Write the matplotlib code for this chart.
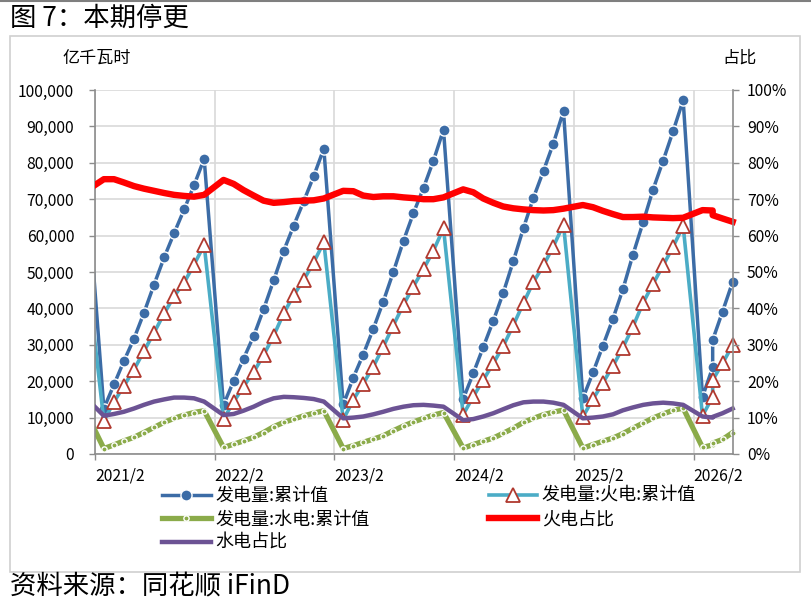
import numpy as np
import pandas as pd
import matplotlib
matplotlib.use("Agg")
import matplotlib.pyplot as plt
from matplotlib.lines import Line2D
from matplotlib.patches import Rectangle
from matplotlib.ticker import FuncFormatter
from datetime import datetime

plt.rcParams['font.family'] = ['Noto Sans CJK SC', 'DejaVu Sans']

# month labels of the data (month-end dates), Jan is not published
months = (["2020-12"]
          + [f"{y}-{m:02d}" for y in range(2021, 2026) for m in range(2, 13)]
          + ["2026-02", "2026-03", "2026-03", "2026-04", "2026-05"])

# 发电量:累计值 (亿千瓦时)
total_gen = [83000,
             12500, 19100, 25500, 31700, 38700, 46500, 54000, 60600, 67200, 73800, 81100,
             13400, 20100, 26200, 32400, 39700, 47700, 55900, 62700, 69500, 76300, 83900,
             13600, 21000, 27300, 34400, 41800, 50000, 58600, 66100, 73100, 80500, 89100,
             15100, 22200, 29300, 36600, 44200, 53000, 62100, 70300, 77800, 85300, 94200,
             15300, 22400, 29700, 37200, 45200, 54800, 63700, 72600, 80600, 88600, 97200,
             15700, 23800, 31300, 39100, 47300]

# 发电量:火电:累计值
thermal_gen = [56000,
               9100, 14300, 18700, 23200, 28200, 33300, 38600, 43300, 47100, 52000, 57400,
               9600, 14300, 18500, 22500, 27100, 32500, 38700, 43600, 47900, 52600, 58200,
               9400, 14900, 19300, 24000, 29400, 35300, 41000, 46000, 50800, 55800, 62000,
               10800, 15800, 20300, 24900, 29600, 35400, 41500, 47200, 51800, 57000, 63000,
               10200, 15100, 19500, 24200, 29200, 35000, 41600, 46700, 51800, 56900, 62600,
               10500, 15700, 20300, 24900, 29900]

# 发电量:水电:累计值
hydro_gen = [12300,
             1500, 2500, 3600, 4600, 5900, 7300, 8700, 9800, 10700, 11400, 11900,
             1800, 2700, 3600, 4600, 5900, 7500, 8700, 9600, 10500, 11200, 11900,
             1500, 2300, 3200, 4100, 5000, 6400, 7700, 8800, 9800, 10700, 11400,
             1600, 2600, 3500, 4400, 5700, 7100, 8700, 9800, 10800, 11500, 12100,
             1600, 2600, 3500, 4400, 5600, 7100, 8500, 9900, 11000, 12000, 12600,
             1800, 2500, 3000, 4000, 5900]

# 火电占比 (%)
thermal_share = [72.0,
                 75.5, 75.5, 74.6, 73.6, 72.9, 72.3, 71.7, 71.2, 70.9, 70.7, 71.2,
                 75.3, 74.2, 72.5, 71.0, 69.6, 69.0, 69.2, 69.5, 69.6, 69.7, 70.2,
                 72.3, 72.2, 71.0, 70.6, 70.8, 70.8, 70.5, 70.3, 70.0, 70.0, 70.5,
                 72.7, 71.9, 70.2, 69.0, 68.0, 67.5, 67.2, 67.0, 66.9, 67.0, 67.4,
                 68.4, 67.8, 66.8, 65.9, 65.1, 65.1, 65.2, 65.0, 64.9, 64.8, 64.9,
                 67.0, 66.9, 65.6, 64.7, 63.8]

# 水电占比 (%)
hydro_share = [15.8,
               10.5, 11.0, 11.6, 12.5, 13.5, 14.4, 15.0, 15.5, 15.5, 15.3, 14.4,
               10.7, 11.0, 11.9, 13.0, 14.3, 15.3, 15.7, 15.6, 15.4, 15.1, 14.4,
               9.8, 10.0, 10.3, 10.9, 11.6, 12.4, 13.0, 13.4, 13.5, 13.3, 13.0,
               9.3, 9.6, 10.3, 11.2, 12.3, 13.4, 14.2, 14.4, 14.4, 14.1, 13.5,
               9.8, 10.0, 10.3, 10.9, 12.0, 12.8, 13.5, 13.9, 14.1, 13.9, 13.5,
               10.3, 10.0, 10.2, 11.2, 12.5]

tick_years = [2021, 2022, 2023, 2024, 2025, 2026]
tick_labels = [f"{y}/2" for y in tick_years]

dates = (pd.to_datetime(months) + pd.offsets.MonthEnd(0)).to_pydatetime()

c_total = '#3c6ca6'
c_thermal = '#4bacc6'
c_tri = '#b0392f'
c_hydro = '#8bab4a'
c_red = '#ff0000'
c_purple = '#6c5394'
c_axis = '#8c8c8c'
c_grid = '#d9d9d9'

fig = plt.figure(figsize=(8.11, 6.07), dpi=100)
ax = fig.add_axes([95/811, 1-454/607, 638/811, 364/607])
ax2 = ax.twinx()

def clip(line, a):
    r = Rectangle((0, -0.05), 1.02, 1.1, transform=a.transAxes)
    line.set_clip_path(r)

blue_kw = dict(color=c_total, lw=2.5, marker='o', ms=8, mfc=c_total, mec='white', mew=1.0)
cyan_kw = dict(color=c_thermal, lw=2.6, marker='^', ms=9.5, mfc='white', mec=c_tri, mew=1.3)
green_kw = dict(color=c_hydro, lw=3.8, marker='o', ms=3.8, mfc=c_hydro, mec='white', mew=1.0)
red_kw = dict(color=c_red, lw=4.6)
purple_kw = dict(color=c_purple, lw=3.2)

l1, = ax.plot(dates, total_gen, **blue_kw)
l2, = ax.plot(dates, thermal_gen, **cyan_kw)
l3, = ax.plot(dates, hydro_gen, **green_kw)
l4, = ax2.plot(dates, thermal_share, solid_joinstyle='round', **red_kw)
l5, = ax2.plot(dates, hydro_share, solid_joinstyle='round', **purple_kw)
for ln in (l1, l2, l3):
    clip(ln, ax)
for ln in (l4, l5):
    clip(ln, ax2)

ax.set_xlim(datetime(2021, 2, 1), datetime(2026, 6, 1))
ax.set_ylim(0, 100000)
ax2.set_ylim(0, 100)
ax.set_yticks(np.arange(0, 100001, 10000))
ax2.set_yticks(np.arange(0, 101, 10))
ax.yaxis.set_major_formatter(FuncFormatter(lambda v, p: f"{v:,.0f}"))
ax2.yaxis.set_major_formatter(FuncFormatter(lambda v, p: f"{v:.0f}%"))

ax.set_xticks([datetime(y, 2, 1) for y in tick_years])
ax.set_xticklabels(tick_labels)
for lab in ax.get_xticklabels():
    lab.set_ha('left')

ax.grid(True, color=c_grid, lw=1.2)
ax.set_axisbelow(True)

for a in (ax, ax2):
    for s in a.spines.values():
        s.set_color(c_axis)
        s.set_linewidth(1.2)
    a.spines['top'].set_visible(False)
ax.spines['right'].set_visible(False)
ax2.spines['left'].set_visible(False)
ax2.spines['bottom'].set_visible(False)

ax.tick_params(axis='y', direction='out', length=4, width=1, color=c_axis,
               labelsize=11.3, pad=11)
ax.tick_params(axis='x', direction='out', length=4, width=1, color=c_axis,
               labelsize=11.3, pad=6)
ax2.tick_params(axis='y', direction='out', length=4, width=1, color=c_axis,
                labelsize=11.3, pad=6)

fig.text(62/811, 1-58/607, "亿千瓦时", fontsize=12.3, va='center', ha='left')
fig.text(722/811, 1-58/607, "占比", fontsize=12.3, va='center', ha='left')

handles = [Line2D([], [], **blue_kw), Line2D([], [], **green_kw), Line2D([], [], **purple_kw),
           Line2D([], [], **cyan_kw), Line2D([], [], **red_kw)]
labels = ["发电量:累计值", "发电量:水电:累计值", "水电占比", "发电量:火电:累计值", "火电占比"]
fig.legend(handles, labels, loc='upper left', bbox_to_anchor=(162/811, 1-487/607),
           ncol=2, frameon=False, fontsize=13, handlelength=2.7, handletextpad=0.25,
           columnspacing=6.6, labelspacing=0.3, borderpad=0, borderaxespad=0)

fig.text(10/811, 1-18/607, "图 7：本期停更", fontsize=19, va='center', ha='left')
fig.text(10/811, 1-586/607, "资料来源：同花顺 iFinD", fontsize=19, va='center', ha='left')

fig.add_artist(Line2D([0, 1], [1-1/607, 1-1/607], transform=fig.transFigure,
                      color='#7f7f7f', lw=1.5))
fig.add_artist(Rectangle((10/811, 1-572/607), 790/811, 536/607, transform=fig.transFigure,
                         fill=False, edgecolor='#d0d0d0', lw=1.2))

fig.savefig("out.png", dpi=100)
